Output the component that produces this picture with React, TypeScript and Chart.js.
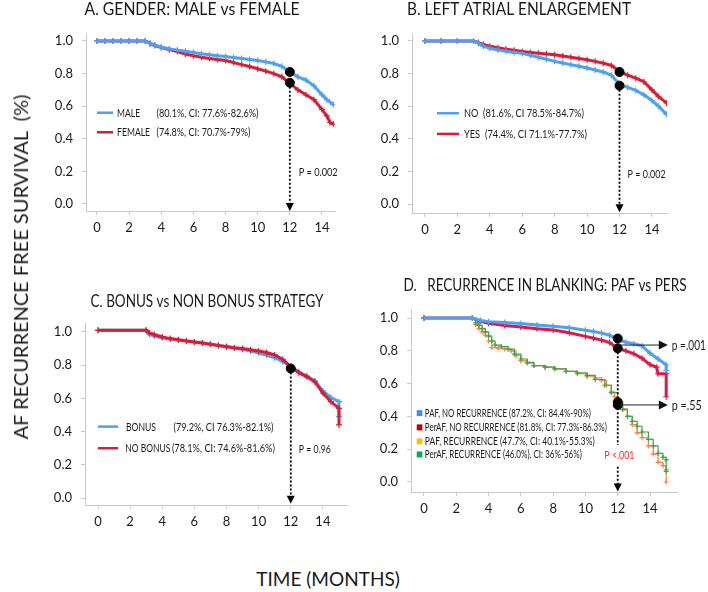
import React, { useEffect, useRef } from "react";
import { Chart, registerables } from "chart.js";
Chart.register(...registerables);

const FONT = "Lato, 'Open Sans', sans-serif";
const X_TICKS = [0, 2, 4, 6, 8, 10, 12, 14];
const Y_TICKS = [0, 0.2, 0.4, 0.6, 0.8, 1.0];

// ---------- Panel A: gender ----------
const A_MALE_T = [0, 0.5, 1, 1.5, 2, 2.5, 3, 3.3, 3.6, 4, 4.5, 5, 5.5, 6, 6.5, 7, 7.5, 8, 8.5, 9, 9.5, 10, 10.5, 11, 11.5, 12, 12.5, 13, 13.5, 14, 14.3, 14.7];
const A_MALE_S = [1, 1, 1, 1, 1, 1, 1, 0.985, 0.975, 0.962, 0.952, 0.944, 0.937, 0.93, 0.922, 0.916, 0.91, 0.905, 0.898, 0.893, 0.886, 0.88, 0.872, 0.862, 0.845, 0.81, 0.78, 0.76, 0.725, 0.67, 0.64, 0.61];
const A_FEMALE_T = [0, 0.5, 1, 1.5, 2, 2.5, 3, 3.3, 3.6, 4, 4.5, 5, 5.5, 6, 6.5, 7, 7.5, 8, 8.5, 9, 9.5, 10, 10.5, 11, 11.5, 12, 12.5, 13, 13.5, 14, 14.3, 14.5, 14.7];
const A_FEMALE_S = [1, 1, 1, 1, 1, 1, 1, 0.985, 0.972, 0.96, 0.947, 0.935, 0.92, 0.91, 0.9, 0.893, 0.886, 0.88, 0.868, 0.855, 0.843, 0.83, 0.815, 0.8, 0.78, 0.74, 0.7, 0.67, 0.64, 0.58, 0.54, 0.5, 0.49];
const A_DOTS = [0.81, 0.744];

// ---------- Panel B: left atrial enlargement ----------
const B_T = [0, 1, 2, 3, 3.3, 3.6, 4, 4.5, 5, 5.5, 6, 6.5, 7, 7.5, 8, 8.5, 9, 9.5, 10, 10.5, 11, 11.5, 12, 12.5, 13, 13.5, 14, 14.4, 14.9];
const B_NO_S = [1, 1, 1, 1, 0.985, 0.968, 0.955, 0.945, 0.937, 0.93, 0.924, 0.912, 0.9, 0.888, 0.875, 0.865, 0.855, 0.845, 0.834, 0.822, 0.81, 0.79, 0.735, 0.715, 0.697, 0.67, 0.635, 0.6, 0.55];
const B_YES_S = [1, 1, 1, 1, 0.99, 0.978, 0.968, 0.958, 0.95, 0.943, 0.936, 0.93, 0.925, 0.92, 0.915, 0.908, 0.9, 0.893, 0.885, 0.875, 0.864, 0.85, 0.815, 0.79, 0.772, 0.75, 0.7, 0.66, 0.62];
const B_DOTS = [0.81, 0.726];

// ---------- Panel C: bonus strategy ----------
const C_T = [0, 3, 3.2, 3.5, 4, 4.5, 5, 5.5, 6, 6.5, 7, 7.5, 8, 8.5, 9, 9.5, 10, 10.5, 11, 11.5, 12, 12.5, 13, 13.5, 14, 14.5, 15, 15];
const C_BONUS_S = [1.01, 1.01, 0.985, 0.975, 0.965, 0.958, 0.952, 0.946, 0.94, 0.933, 0.926, 0.918, 0.91, 0.902, 0.895, 0.885, 0.873, 0.86, 0.845, 0.822, 0.79, 0.76, 0.735, 0.705, 0.645, 0.605, 0.58, 0.49];
const C_NOBONUS_S = [1.01, 1.01, 0.995, 0.985, 0.97, 0.96, 0.953, 0.946, 0.94, 0.933, 0.926, 0.918, 0.912, 0.905, 0.9, 0.893, 0.886, 0.876, 0.862, 0.835, 0.79, 0.755, 0.73, 0.7, 0.632, 0.58, 0.54, 0.44];
const C_DOTS = [0.78];

// ---------- Panel D: recurrence in blanking ----------
const D_PAF_NR_T = [0, 3, 3.5, 4, 5, 6, 7, 8, 9, 10, 10.5, 11, 11.5, 12, 12.5, 13, 13.5, 14, 14.5, 15, 15];
const D_PAF_NR_S = [1, 1, 0.985, 0.978, 0.972, 0.966, 0.958, 0.95, 0.94, 0.926, 0.918, 0.908, 0.895, 0.868, 0.852, 0.843, 0.83, 0.785, 0.75, 0.715, 0.68];
const D_PER_NR_T = [0, 3, 3.5, 4, 5, 6, 7, 8, 9, 10, 10.5, 11, 11.5, 12, 12.5, 13, 13.5, 14, 14.4, 14.5, 15, 15];
const D_PER_NR_S = [1, 1, 0.98, 0.968, 0.955, 0.945, 0.935, 0.927, 0.91, 0.888, 0.877, 0.865, 0.85, 0.815, 0.8, 0.782, 0.755, 0.715, 0.7, 0.66, 0.66, 0.52];
const D_PAF_R_T = [0, 3, 3.2, 3.4, 3.6, 3.8, 4.0, 4.2, 4.6, 5.0, 5.4, 5.7, 6.0, 6.4, 6.8, 7.5, 8.1, 8.8, 9.5, 10.1, 10.6, 11.0, 11.3, 11.6, 11.8, 12.0, 12.3, 12.6, 12.9, 13.2, 13.5, 13.9, 14.2, 14.5, 14.8, 15.0, 15.0];
const D_PAF_R_S = [1, 1, 0.96, 0.935, 0.915, 0.895, 0.86, 0.82, 0.815, 0.81, 0.8, 0.77, 0.74, 0.725, 0.71, 0.7, 0.69, 0.675, 0.66, 0.645, 0.635, 0.62, 0.59, 0.55, 0.52, 0.49, 0.44, 0.4, 0.35, 0.3, 0.27, 0.22, 0.17, 0.12, 0.1, 0.075, 0.0];
const D_PER_R_T = [0, 3, 3.2, 3.4, 3.6, 3.8, 4.0, 4.2, 4.4, 4.8, 5.2, 5.6, 6.0, 6.4, 6.8, 7.5, 8.1, 8.8, 9.5, 10.1, 10.6, 11.2, 11.6, 12.0, 12.3, 12.6, 12.9, 13.2, 13.5, 13.9, 14.2, 14.5, 14.8, 15.0, 15.0];
const D_PER_R_S = [1, 1, 0.97, 0.955, 0.935, 0.915, 0.89, 0.86, 0.835, 0.825, 0.81, 0.78, 0.75, 0.73, 0.71, 0.7, 0.69, 0.675, 0.665, 0.65, 0.625, 0.59, 0.545, 0.49, 0.445, 0.4, 0.37, 0.34, 0.305, 0.26, 0.22, 0.175, 0.15, 0.135, 0.065];
const D_DOTS = [0.875, 0.815, 0.487, 0.47];

const BLUE = "#4f9ff2";
const RED = "#d81e34";
const CRIMSON = "#dc1a48";
const ORANGE = "#f5834a";
const GREEN = "#3ea548";
const TEXT = "#1a1a1a";

const toXY = (t: number[], s: number[]) => t.map((x, i) => ({ x, y: s[i] }));

function kmDataset(label: string, t: number[], s: number[], color: string, thick: boolean, stepped = false) {
  return {
    label,
    data: toXY(t, s),
    borderColor: color,
    backgroundColor: color,
    borderWidth: thick ? 3 : 1.2,
    pointStyle: "cross",
    pointRadius: thick ? 3 : 2.5,
    pointBorderWidth: 1.2,
    pointBorderColor: color,
    stepped: stepped ? true : false,
    tension: 0,
    fill: false,
    order: 2,
  };
}

function dotDataset(values: number[]) {
  return {
    label: "12 months",
    data: values.map((v) => ({ x: 12, y: v })),
    showLine: false,
    pointRadius: 4.5,
    pointBackgroundColor: "#000",
    pointBorderColor: "#000",
    pointStyle: "circle",
    order: 0,
  };
}

type TextItem = { text: string; x: number; w: number };
type Decor = {
  title: { text: string; x: number; y: number; size: number; w: number };
  legend?: { kind: "line" | "square"; color: string; x0: number; x1: number; y: number; texts: TextItem[] }[];
  legendSize?: number;
  vArrow?: { x: number; segments: number[][]; tip: number };
  hArrows?: { y: number; x0: number; x1: number; text: string; textX: number; w: number }[];
  texts?: { text: string; x: number; y: number; color: string; size: number; align: CanvasTextAlign; w: number }[];
};

function fitText(ctx: CanvasRenderingContext2D, text: string, x: number, y: number, w: number) {
  const m = ctx.measureText(text).width;
  if (m > w) ctx.fillText(text, x, y, w);
  else ctx.fillText(text, x, y);
}

function drawDecor(chart: any, d: Decor) {
  const ctx: CanvasRenderingContext2D = chart.ctx;
  const xs = chart.scales.x;
  const ys = chart.scales.y;
  const px = (v: number) => xs.getPixelForValue(v);
  const py = (v: number) => ys.getPixelForValue(v);
  ctx.save();
  // title
  ctx.fillStyle = TEXT;
  ctx.font = `${d.title.size}px ${FONT}`;
  ctx.textAlign = "center";
  ctx.textBaseline = "middle";
  fitText(ctx, d.title.text, d.title.x, d.title.y, d.title.w);

  // legend
  if (d.legend) {
    ctx.font = `${d.legendSize || 11}px ${FONT}`;
    ctx.textAlign = "left";
    for (const it of d.legend) {
      const y = py(it.y);
      if (it.kind === "line") {
        ctx.strokeStyle = it.color;
        ctx.lineWidth = 2.5;
        ctx.beginPath();
        ctx.moveTo(px(it.x0), y);
        ctx.lineTo(px(it.x1), y);
        ctx.stroke();
      } else {
        ctx.fillStyle = it.color;
        ctx.fillRect(px(it.x0), y - 3, px(it.x1) - px(it.x0), 6);
      }
      ctx.fillStyle = TEXT;
      for (const t of it.texts) fitText(ctx, t.text, px(t.x), y + 0.5, t.w);
    }
  }

  // vertical dotted arrow
  if (d.vArrow) {
    const x = px(d.vArrow.x);
    ctx.strokeStyle = "#000";
    ctx.lineWidth = 1.8;
    ctx.setLineDash([2, 2]);
    for (const seg of d.vArrow.segments) {
      ctx.beginPath();
      ctx.moveTo(x, py(seg[0]));
      ctx.lineTo(x, py(seg[1]));
      ctx.stroke();
    }
    ctx.setLineDash([]);
    const tip = py(d.vArrow.tip);
    ctx.fillStyle = "#000";
    ctx.beginPath();
    ctx.moveTo(x, tip);
    ctx.lineTo(x - 4, tip - 8);
    ctx.lineTo(x + 4, tip - 8);
    ctx.closePath();
    ctx.fill();
  }

  // horizontal arrows
  if (d.hArrows) {
    for (const a of d.hArrows) {
      const y = py(a.y);
      const x0 = px(a.x0);
      const x1 = px(a.x1);
      ctx.strokeStyle = "#222";
      ctx.lineWidth = 1;
      ctx.beginPath();
      ctx.moveTo(x0, y);
      ctx.lineTo(x1 - 8, y);
      ctx.stroke();
      ctx.fillStyle = "#111";
      ctx.beginPath();
      ctx.moveTo(x1, y);
      ctx.lineTo(x1 - 9, y - 4.5);
      ctx.lineTo(x1 - 9, y + 4.5);
      ctx.closePath();
      ctx.fill();
      ctx.font = `13.5px ${FONT}`;
      ctx.textAlign = "left";
      ctx.fillStyle = TEXT;
      fitText(ctx, a.text, px(a.textX), y + 1, a.w);
    }
  }

  if (d.texts) {
    for (const t of d.texts) {
      ctx.font = `${t.size}px ${FONT}`;
      ctx.textAlign = t.align;
      ctx.fillStyle = t.color;
      fitText(ctx, t.text, px(t.x), py(t.y), t.w);
    }
  }
  ctx.restore();
}

type PanelProps = {
  left: number;
  top: number;
  width: number;
  height: number;
  yW: number;
  xH: number;
  padTop: number;
  padRight: number;
  xMin: number;
  xMax: number;
  yMin: number;
  yMax: number;
  datasets: any[];
  decor: Decor;
};

function Panel(p: PanelProps) {
  const ref = useRef<HTMLCanvasElement>(null);
  useEffect(() => {
    if (!ref.current) return;
    const axisColor = "#c9c9c9";
    const plugin = { id: "decor", afterDraw: (chart: any) => drawDecor(chart, p.decor) };
    const chart = new Chart(ref.current, {
      type: "line",
      data: { datasets: p.datasets },
      options: {
        animation: false,
        responsive: false,
        events: [],
        layout: { padding: { top: p.padTop, right: p.padRight, left: 0, bottom: 0 } },
        plugins: { legend: { display: false }, tooltip: { enabled: false }, title: { display: false } },
        scales: {
          x: {
            type: "linear",
            min: p.xMin,
            max: p.xMax,
            afterBuildTicks: (s: any) => {
              s.ticks = X_TICKS.map((v) => ({ value: v }));
            },
            afterFit: (s: any) => {
              s.height = p.xH;
            },
            grid: { drawOnChartArea: false, drawTicks: true, tickLength: 4, color: axisColor },
            border: { color: axisColor, width: 1 },
            ticks: { color: TEXT, font: { family: FONT, size: 13 }, padding: 5, maxRotation: 0, autoSkip: false },
          },
          y: {
            type: "linear",
            min: p.yMin,
            max: p.yMax,
            afterBuildTicks: (s: any) => {
              s.ticks = Y_TICKS.map((v) => ({ value: v }));
            },
            afterFit: (s: any) => {
              s.width = p.yW;
            },
            grid: { drawOnChartArea: false, drawTicks: true, tickLength: 4, color: axisColor },
            border: { color: axisColor, width: 1 },
            ticks: {
              color: TEXT,
              font: { family: FONT, size: 13 },
              padding: 9,
              autoSkip: false,
              callback: (v: any) => Number(v).toFixed(1),
            },
          },
        },
      } as any,
      plugins: [plugin],
    });
    return () => chart.destroy();
  }, []);
  return (
    <canvas
      ref={ref}
      width={p.width}
      height={p.height}
      style={{ position: "absolute", left: p.left, top: p.top, width: p.width, height: p.height }}
    />
  );
}

export default function App() {
  const panelA: PanelProps = {
    left: 0, top: 0, width: 354, height: 250, yW: 86, xH: 39, padTop: 33, padRight: 19,
    xMin: -0.684, xMax: 14.81, yMin: -0.043, yMax: 1.049,
    datasets: [
      dotDataset(A_DOTS),
      kmDataset("MALE", A_MALE_T, A_MALE_S, BLUE, true),
      kmDataset("FEMALE", A_FEMALE_T, A_FEMALE_S, RED, true),
    ],
    decor: {
      title: { text: "A. GENDER: MALE vs FEMALE", x: 192, y: 10, size: 16.5, w: 215 },
      legendSize: 10.5,
      legend: [
        { kind: "line", color: BLUE, x0: 0, x1: 1.0, y: 0.56, texts: [{ text: "MALE", x: 1.25, w: 23 }, { text: "(80.1%, CI: 77.6%-82,6%)", x: 3.7, w: 102 }] },
        { kind: "line", color: RED, x0: 0, x1: 1.0, y: 0.44, texts: [{ text: "FEMALE", x: 1.25, w: 33 }, { text: "(74.8%, CI: 70.7%-79%)", x: 3.7, w: 94 }] },
      ],
      vArrow: { x: 12, segments: [[0.744, -0.02]], tip: -0.043 },
      texts: [{ text: "P = 0.002", x: 12.55, y: 0.194, color: TEXT, size: 10.5, align: "left", w: 39 }],
    },
  };
  const panelB: PanelProps = {
    left: 354, top: 0, width: 354, height: 250, yW: 58, xH: 37, padTop: 33, padRight: 41,
    xMin: -0.8, xMax: 14.93, yMin: -0.055, yMax: 1.049,
    datasets: [
      dotDataset(B_DOTS),
      kmDataset("NO", B_T, B_NO_S, BLUE, true),
      kmDataset("YES", B_T, B_YES_S, RED, true),
    ],
    decor: {
      title: { text: "B. LEFT ATRIAL ENLARGEMENT", x: 519 - 354, y: 10, size: 16.5, w: 224 },
      legendSize: 10.5,
      legend: [
        { kind: "line", color: BLUE, x0: 0.74, x1: 2.1, y: 0.557, texts: [{ text: "NO  (81.6%, CI 78.5%-84.7%)", x: 2.4, w: 120 }] },
        { kind: "line", color: RED, x0: 0.74, x1: 2.1, y: 0.43, texts: [{ text: "YES  (74.4%, CI 71.1%-77.7%)", x: 2.4, w: 123 }] },
      ],
      vArrow: { x: 12, segments: [[0.726, -0.03]], tip: -0.05 },
      texts: [{ text: "P = 0.002", x: 12.5, y: 0.18, color: TEXT, size: 10.5, align: "left", w: 38 }],
    },
  };
  const panelC: PanelProps = {
    left: 0, top: 250, width: 354, height: 300, yW: 85, xH: 45, padTop: 73, padRight: 7,
    xMin: -0.81, xMax: 15.5, yMin: -0.042, yMax: 1.054,
    datasets: [
      dotDataset(C_DOTS),
      kmDataset("NO BONUS", C_T, C_NOBONUS_S, RED, true),
      kmDataset("BONUS", C_T, C_BONUS_S, BLUE, true),
    ],
    decor: {
      title: { text: "C. BONUS vs NON BONUS STRATEGY", x: 207, y: 52, size: 16.5, w: 233 },
      legendSize: 10.5,
      legend: [
        { kind: "line", color: BLUE, x0: 0, x1: 1.25, y: 0.43, texts: [{ text: "BONUS", x: 1.74, w: 30 }, { text: "(79.2%, CI 76.3%-82.1%)", x: 4.7, w: 100 }] },
        { kind: "line", color: RED, x0: 0, x1: 1.25, y: 0.3, texts: [{ text: "NO BONUS", x: 1.7, w: 45 }, { text: "(78.1%, CI: 74.6%-81.6%)", x: 4.6, w: 103 }] },
      ],
      vArrow: { x: 12, segments: [[0.78, -0.015]], tip: -0.035 },
      texts: [{ text: "P = 0.96", x: 12.5, y: 0.29, color: TEXT, size: 10.5, align: "left", w: 32 }],
    },
  };
  const panelD: PanelProps = {
    left: 354, top: 250, width: 354, height: 300, yW: 57, xH: 58, padTop: 59, padRight: 31,
    xMin: -0.805, xMax: 15.67, yMin: -0.061, yMax: 1.055,
    datasets: [
      dotDataset(D_DOTS),
      kmDataset("PAF, NO RECURRENCE", D_PAF_NR_T, D_PAF_NR_S, BLUE, true),
      kmDataset("PerAF, NO RECURRENCE", D_PER_NR_T, D_PER_NR_S, CRIMSON, true),
      kmDataset("PerAF, RECURRENCE", D_PER_R_T, D_PER_R_S, GREEN, false, true),
      kmDataset("PAF, RECURRENCE", D_PAF_R_T, D_PAF_R_S, ORANGE, false, true),
    ],
    decor: {
      title: { text: "D.   RECURRENCE IN BLANKING: PAF vs PERS", x: 545 - 354, y: 36, size: 16.5, w: 283 },
      legendSize: 10.5,
      legend: [
        { kind: "square", color: "#3d8ef0", x0: -0.45, x1: -0.1, y: 0.42, texts: [{ text: "PAF, NO RECURRENCE (87.2%, CI: 84.4%-90%)", x: 0.05, w: 166 }] },
        { kind: "square", color: "#c00000", x0: -0.45, x1: -0.1, y: 0.333, texts: [{ text: "PerAF, NO RECURRENCE (81.8%, CI: 77.3%-86.3%)", x: 0.05, w: 182 }] },
        { kind: "square", color: "#ffc000", x0: -0.45, x1: -0.1, y: 0.248, texts: [{ text: "PAF, RECURRENCE (47.7%, CI: 40.1%-55.3%)", x: 0.05, w: 170 }] },
        { kind: "square", color: "#00b050", x0: -0.45, x1: -0.1, y: 0.168, texts: [{ text: "PerAF, RECURRENCE (46.0%), CI: 36%-56%)", x: 0.05, w: 157 }] },
      ],
      vArrow: { x: 12, segments: [[0.815, 0.225], [0.093, -0.04]], tip: -0.058 },
      hArrows: [
        { y: 0.835, x0: 12.05, x1: 15.1, text: "p =.001", textX: 15.35, w: 34 },
        { y: 0.47, x0: 12.05, x1: 15.1, text: "p =.55", textX: 15.35, w: 30 },
      ],
      texts: [{ text: "P <.001", x: 12.1, y: 0.166, color: "#ff2a2a", size: 12, align: "center", w: 30 }],
    },
  };

  return (
    <div style={{ position: "absolute", left: 0, top: 0, width: 708, height: 592, background: "#fff", overflow: "hidden", fontFamily: FONT }}>
      <Panel {...panelA} />
      <Panel {...panelB} />
      <Panel {...panelC} />
      <Panel {...panelD} />
      <div
        style={{
          position: "absolute",
          left: 20,
          top: 267,
          transform: "translate(-50%, -50%) rotate(-90deg)",
          whiteSpace: "nowrap",
          fontSize: 20,
          color: TEXT,
          lineHeight: 1,
        }}
      >
        AF RECURRENCE FREE SURVIVAL&nbsp;&nbsp;(%)
      </div>
      <div
        style={{
          position: "absolute",
          left: 328,
          top: 578,
          transform: "translate(-50%, -50%)",
          whiteSpace: "nowrap",
          fontSize: 19,
          color: TEXT,
          lineHeight: 1,
        }}
      >
        TIME (MONTHS)
      </div>
    </div>
  );
}
